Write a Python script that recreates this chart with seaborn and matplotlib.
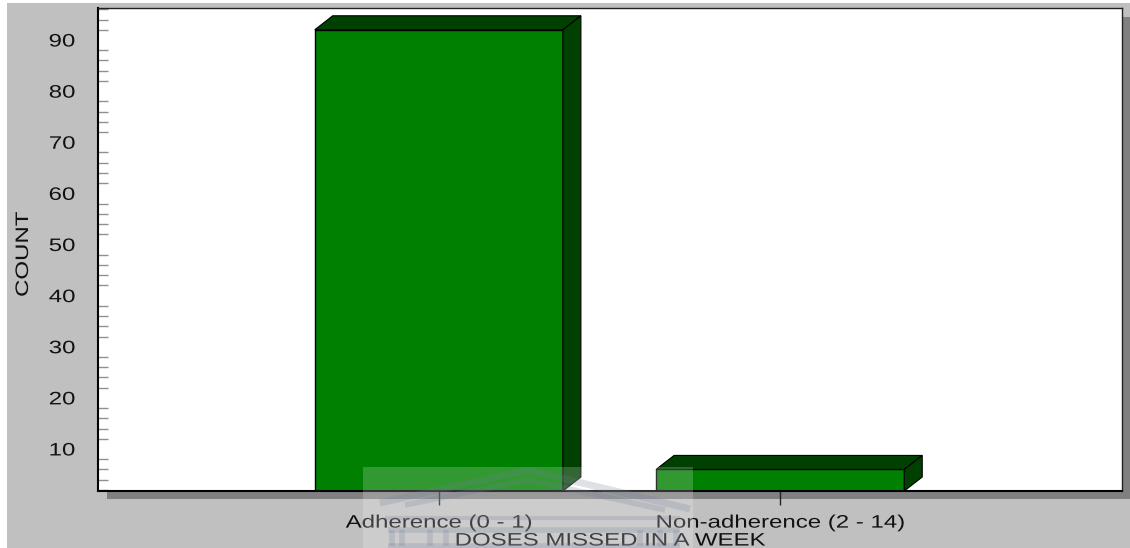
import matplotlib
matplotlib.use("Agg")
import matplotlib.pyplot as plt
import pandas as pd
import seaborn as sns
from matplotlib.lines import Line2D
from matplotlib.patches import Polygon, Rectangle
from matplotlib.patheffects import AbstractPathEffect
from matplotlib.ticker import MultipleLocator
from matplotlib.transforms import Affine2D

CATEGORIES = ["Adherence (0 - 1)", "Non-adherence (2 - 14)"]
COUNTS = [92, 6]
Y_TICKS = [10, 20, 30, 40, 50, 60, 70, 80, 90]

W, H = 1130, 548
GREEN = "#008000"
DARK_GREEN = "#004000"
GREY = "#c0c0c0"
SHADOW = "#808080"
TEXT = "#111111"


class StretchX(AbstractPathEffect):
    # the original text is squashed-wide, stretch it along its baseline
    def __init__(self, k):
        super().__init__()
        self.k = k

    def draw_path(self, renderer, gc, tpath, affine, rgbFace=None):
        box = tpath.get_extents()
        cx = (box.x0 + box.x1) / 2
        stretch = Affine2D().translate(-cx, 0).scale(self.k, 1).translate(cx, 0)
        renderer.draw_path(gc, tpath, stretch + affine, rgbFace)


def px(x, y):
    return x / W, 1 - y / H


def fig_rect(fig, x0, y0, x1, y1, **kw):
    fig.add_artist(Rectangle(px(x0, y1), (x1 - x0) / W, (y1 - y0) / H,
                             transform=fig.transFigure, linewidth=0, **kw))


def fig_line(fig, xs, ys, **kw):
    pts = [px(x, y) for x, y in zip(xs, ys)]
    fig.add_artist(Line2D([p[0] for p in pts], [p[1] for p in pts],
                          transform=fig.transFigure, **kw))


sns.set_style("white")
plt.rcParams["font.family"] = ["Liberation Sans", "DejaVu Sans"]

df = pd.DataFrame({"doses": CATEGORIES, "count": COUNTS})

fig = plt.figure(figsize=(W / 100, H / 100), dpi=100, facecolor="white")

# grey panel and the drop shadow behind the plot area
fig_rect(fig, 7, 3, W, H, facecolor=GREY, zorder=-3)
fig_rect(fig, 107, 17, W, 499, facecolor=SHADOW, zorder=-2)

ax = fig.add_axes([98 / W, 1 - 491 / H, 1024 / W, 483 / H], facecolor="white")
sns.barplot(data=df, x="doses", y="count", color=GREEN, saturation=1, width=0.727,
            edgecolor="black", linewidth=1, ax=ax)
ax.set_xlim(-0.9985, 2.0015)
ax.set_ylim(1.78, 96.26)

# 3d look, depth is fixed in pixels
dx = 18 * 3 / 1024
dy = 14 * (96.26 - 1.78) / 483
ymin = ax.get_ylim()[0]
for bar in ax.patches[:len(COUNTS)]:
    x0, x1, top = bar.get_x(), bar.get_x() + bar.get_width(), bar.get_height()
    ax.add_patch(Polygon([(x0, top), (x0 + dx, top + dy), (x1 + dx, top + dy), (x1, top)],
                         facecolor=DARK_GREEN, edgecolor="black", linewidth=0.8,
                         clip_on=False, zorder=3))
    ax.add_patch(Polygon([(x1, ymin), (x1, top), (x1 + dx, top + dy), (x1 + dx, ymin + dy)],
                         facecolor=DARK_GREEN, edgecolor="black", linewidth=0.8,
                         clip_on=False, zorder=3))

ax.set_yticks(Y_TICKS)
ax.yaxis.set_minor_locator(MultipleLocator(2))
ax.tick_params(axis="y", which="major", direction="inout", length=15.8, width=1,
               color="#222222", pad=10.7, labelsize=13, labelcolor=TEXT)
ax.tick_params(axis="y", which="minor", direction="in", left=True, length=7.2, width=1,
               color="#909090")
ax.tick_params(axis="x", which="major", direction="out", bottom=True, length=10, width=1,
               color="#222222", pad=7, labelsize=13, labelcolor=TEXT)

ax.set_xlabel("DOSES MISSED IN A WEEK", fontsize=13, color=TEXT)
ax.set_ylabel("COUNT", fontsize=13, color=TEXT)
ax.xaxis.set_label_coords(0.5, -0.086)
ax.yaxis.set_label_coords(-66 / 1024, 0.49)

stretch = [StretchX(1.33)]
for t in ax.get_xticklabels() + ax.get_yticklabels():
    t.set_path_effects(stretch)
ax.xaxis.label.set_path_effects(stretch)
ax.yaxis.label.set_path_effects(stretch)

for name in ["left", "bottom"]:
    ax.spines[name].set_color("black")
    ax.spines[name].set_linewidth(1.5)
for name in ["top", "right"]:
    ax.spines[name].set_color("#222222")
    ax.spines[name].set_linewidth(1)

# faint crest stamped over the bottom of the page
fig_rect(fig, 363, 467, 693, H, facecolor="white", alpha=0.2, zorder=5)
crest = dict(color="#6f7a96", alpha=0.22, solid_capstyle="butt", zorder=6)
fig_line(fig, [380, 528, 690], [503, 470, 509], linewidth=5, **crest)
fig_line(fig, [405, 528, 665], [505, 480, 510], linewidth=4, **crest)
fig_line(fig, [385, 680], [518, 518], linewidth=3, **crest)
fig_line(fig, [388, 680], [530, 530], linewidth=4, **crest)
fig_line(fig, [388, 680], [546, 546], linewidth=4, **crest)
for x in [392, 402, 430, 446, 640, 660, 676]:
    fig_line(fig, [x, x], [530, 546], linewidth=4, **crest)

fig.savefig("out.png", dpi=100, facecolor=fig.get_facecolor())
